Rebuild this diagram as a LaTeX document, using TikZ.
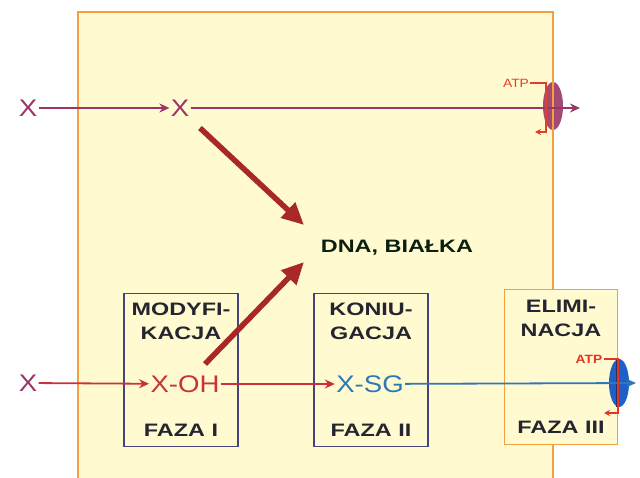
\documentclass[tikz,border=0pt]{standalone}
\usepackage{fontspec}
\setmainfont{Liberation Sans}[FakeStretch=1.15]
\newfontfamily\widesans{Liberation Sans}[FakeStretch=1.3]
\usetikzlibrary{arrows.meta,positioning,calc}

\definecolor{cellfill}{HTML}{FFFAD0}
\definecolor{membrane}{HTML}{F4A040}
\definecolor{xpurple}{HTML}{9A3565}
\definecolor{xred}{HTML}{C8323C}
\definecolor{thickred}{HTML}{A82828}
\definecolor{sgblue}{HTML}{2F78B8}
\definecolor{pumpblue}{HTML}{1E5FC8}
\definecolor{boxnavy}{HTML}{45457E}
\definecolor{labeldark}{HTML}{252530}
\definecolor{atpred}{HTML}{E0402A}

\tikzset{
  mol/.style={font=\fontsize{24}{24}\selectfont, inner sep=1pt},
  caps/.style={font=\widesans\bfseries\fontsize{18}{24}\selectfont, text=labeldark, align=center, inner sep=0pt},
  phasebox/.style={draw=boxnavy, line width=1.8pt, minimum width=114pt, minimum height=153pt},
  elimbox/.style={draw=membrane, fill=cellfill, line width=1.8pt, minimum width=113pt, minimum height=155pt},
  tip/.style={line width=1.8pt, -{Stealth[length=10pt,width=9pt]}},
  bigtip/.style={line width=5.5pt, -{Triangle[length=22pt,width=20pt]}},
  atpline/.style={line width=1.4pt, -{Stealth[length=6pt,width=6pt]}}
}

\begin{document}
\begin{tikzpicture}[x=1pt,y=-1pt,line width=0.8pt]
  \useasboundingbox (0,0) rectangle (640,478);
  \clip (0,0) rectangle (640,478);
  % cell
  \draw[membrane, fill=cellfill, line width=1.8pt] (78,12) rectangle (553,520);

  % top route
  \node[mol, text=xpurple] (xin) at (28,108) {X};
  \node[mol, text=xpurple] (xcell) at (180,108) {X};
  \coordinate (xout) at (580,108);
  \draw[xpurple, tip] (xin) -- (xcell);
  \fill[xpurple!90] (553,106) ellipse (10pt and 24pt);
  \draw[membrane, line width=1.8pt] (553,80) -- (553,132);
  \draw[xpurple, tip] (xcell) -- (xout);
  \node[font=\fontsize{12}{12}\selectfont, text=atpred, inner sep=1pt] (atptop) at (516,83) {ATP};
  \draw[atpred, atpline] (atptop.east) -| (546,132) -- (535,132);

  % targets
  \node[font=\widesans\bfseries\fontsize{18}{18}\selectfont, text=labeldark!80!green!40!black] (dna) at (397,248) {DNA, BIAŁKA};
  \coordinate (hit1) at (304,225);
  \coordinate (hit2) at (304,262);

  % phases
  \node[phasebox] (faza1) at (181,370) {};
  \node[phasebox] (faza2) at (371,370) {};
  \node[elimbox] (faza3) at (561,367) {};
  \node[caps, below=10pt of faza1.north] {MODYFI-\\KACJA};
  \node[caps, below=10pt of faza2.north] {KONIU-\\GACJA};
  \node[caps, below=11pt of faza3.north] {ELIMI-\\NACJA};
  \node[caps, above=11pt of faza1.south] {FAZA I};
  \node[caps, above=11pt of faza2.south] {FAZA II};
  \node[caps, above=12pt of faza3.south] {FAZA III};

  \node[mol, text=xpurple] (xin2) at (28,383) {X};
  \node[mol, text=xred] (xoh) at (185,384) {X-OH};
  \node[mol, text=sgblue] (xsg) at (370,384) {X-SG};
  \coordinate (sgout) at (636,383);
  \draw[xred, tip] (xin2) -- (xoh);
  \draw[xred, tip] (xoh) -- (xsg);
  \fill[pumpblue] (619,383) ellipse (10pt and 24pt);
  \draw[boxnavy!70!black, line width=1.8pt] (617,360) -- (617,407);
  \draw[sgblue, tip] (xsg) -- (sgout);
  \node[font=\bfseries\fontsize{12}{12}\selectfont, text=atpred!80!red, inner sep=1pt] (atpbot) at (589,359) {ATP};
  \draw[atpred!80!red, atpline] (atpbot.east) -| (618,413) -- (604,413);

  % damage
  \draw[thickred, bigtip] (200,128) -- (hit1);
  \draw[thickred, bigtip] (205,364) -- (hit2);
\end{tikzpicture}
\end{document}
